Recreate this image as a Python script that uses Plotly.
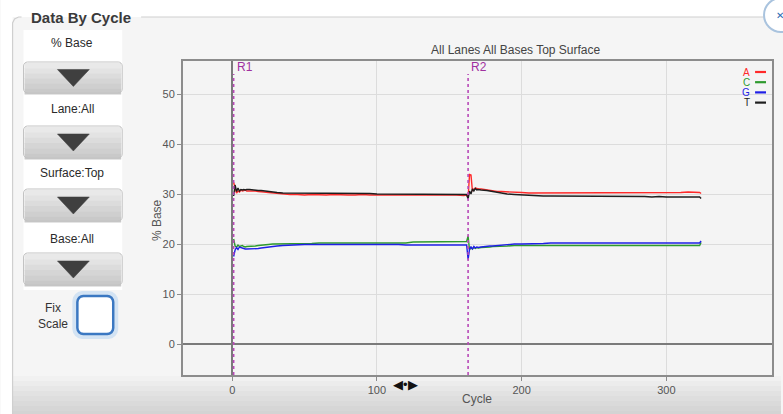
import plotly.graph_objects as go
import math

# ---------------- data ----------------
cycles = [1, 2, 3, 4, 5, 6, 7, 8, 9, 10,
          12, 14, 16, 18, 20, 22, 25, 28, 31, 35,
          40, 45, 50, 55, 60, 65, 70, 75, 80, 85,
          90, 95, 100, 105, 110, 115, 120, 125, 130, 135,
          140, 145, 150, 155, 160, 162, 163, 164, 165, 166,
          167, 168, 169, 170, 172, 174, 176, 178, 180, 183,
          186, 190, 195, 200, 205, 210, 215, 220, 225, 230,
          235, 240, 245, 250, 255, 260, 265, 270, 275, 280,
          285, 290, 295, 300, 305, 310, 315, 320, 323, 324]

base_A = [32.3, 31.0, 30.2, 30.6, 30.4, 30.8, 30.6, 30.7, 30.8, 30.6,
          30.6, 30.7, 30.6, 30.5, 30.5, 30.4, 30.3, 30.2, 30.1, 30.0,
          29.9, 29.9, 29.8, 29.9, 29.8, 29.8, 29.9, 29.8, 29.8, 29.8,
          29.9, 29.8, 29.8, 29.9, 29.8, 29.8, 29.9, 29.8, 29.8, 29.8,
          29.9, 29.8, 29.8, 29.8, 29.7, 29.8, 29.2, 33.9, 33.8, 30.6,
          31.0, 31.2, 31.1, 31.0, 31.0, 30.9, 30.8, 30.7, 30.6, 30.5,
          30.5, 30.4, 30.3, 30.3, 30.2, 30.2, 30.2, 30.2, 30.2, 30.2,
          30.2, 30.2, 30.2, 30.2, 30.2, 30.2, 30.2, 30.2, 30.2, 30.2,
          30.2, 30.2, 30.2, 30.2, 30.2, 30.3, 30.4, 30.3, 30.3, 30.1]

base_C = [21.0, 19.6, 19.4, 19.8, 19.5, 19.6, 19.7, 19.5, 19.4, 19.5,
          19.5, 19.5, 19.6, 19.7, 19.8, 19.9, 19.9, 20.0, 20.0, 20.0,
          20.0, 20.1, 20.1, 20.1, 20.2, 20.2, 20.1, 20.2, 20.2, 20.2,
          20.2, 20.2, 20.2, 20.2, 20.2, 20.2, 20.2, 20.4, 20.4, 20.4,
          20.4, 20.5, 20.5, 20.5, 20.5, 20.5, 21.6, 18.8, 19.3, 19.0,
          19.3, 19.1, 19.3, 19.2, 19.3, 19.3, 19.4, 19.4, 19.5, 19.5,
          19.6, 19.6, 19.7, 19.7, 19.8, 19.8, 19.8, 19.8, 19.8, 19.8,
          19.8, 19.8, 19.8, 19.8, 19.8, 19.8, 19.8, 19.8, 19.8, 19.8,
          19.8, 19.8, 19.8, 19.8, 19.7, 19.7, 19.7, 19.7, 19.7, 20.3]

base_G = [17.5, 18.8, 19.3, 18.9, 19.4, 19.3, 19.1, 19.0, 19.0, 19.0,
          19.0, 19.0, 19.1, 19.1, 19.2, 19.3, 19.4, 19.5, 19.6, 19.7,
          19.8, 19.8, 19.9, 19.9, 19.9, 20.0, 20.0, 20.0, 19.9, 20.0,
          19.9, 19.9, 19.9, 19.9, 19.9, 19.9, 19.8, 19.8, 19.8, 19.8,
          19.8, 19.8, 19.8, 19.8, 19.8, 19.8, 16.9, 19.0, 19.4, 19.0,
          19.5, 19.2, 19.4, 19.3, 19.4, 19.5, 19.5, 19.6, 19.6, 19.7,
          19.8, 19.9, 20.0, 20.0, 20.0, 20.1, 20.1, 20.2, 20.2, 20.2,
          20.2, 20.3, 20.2, 20.2, 20.3, 20.2, 20.2, 20.2, 20.2, 20.2,
          20.2, 20.2, 20.2, 20.2, 20.2, 20.2, 20.2, 20.2, 20.2, 20.6]

base_T = [29.6, 31.8, 30.5, 31.2, 30.6, 30.9, 30.8, 30.9, 30.8, 30.9,
          30.9, 30.8, 30.8, 30.7, 30.7, 30.6, 30.5, 30.4, 30.3, 30.2,
          30.2, 30.1, 30.2, 30.1, 30.2, 30.1, 30.1, 30.2, 30.1, 30.1,
          30.1, 30.1, 30.0, 30.0, 30.0, 30.0, 30.0, 30.0, 30.0, 29.9,
          30.0, 29.9, 29.9, 29.9, 29.9, 29.9, 29.0, 30.6, 30.0, 31.0,
          30.6, 31.1, 30.8, 30.9, 30.8, 30.8, 30.7, 30.6, 30.5, 30.3,
          30.2, 30.0, 29.9, 29.8, 29.7, 29.7, 29.6, 29.6, 29.6, 29.5,
          29.6, 29.5, 29.5, 29.5, 29.5, 29.5, 29.5, 29.5, 29.5, 29.5,
          29.5, 29.4, 29.5, 29.4, 29.4, 29.4, 29.4, 29.4, 29.4, 29.1]

series_names = ["A", "C", "G", "T"]
series_colors = ["#ff2a2a", "#2e9a2e", "#1f1fe6", "#1e1e1e"]
read_labels = ["R1", "R2"]
read_starts = [1, 163]
x_ticks = [0, 100, 200, 300]
y_ticks = [0, 10, 20, 30, 40, 50]
menu_labels = ["% Base", "Lane:All", "Surface:Top", "Base:All"]

chart_title = "All Lanes All Bases Top Surface"
panel_title = "Data By Cycle"

# ---------------- layout helpers (pixel -> paper) ----------------
W, H = 783, 414
PL, PR, PT, PB = 183, 774, 61, 375


def fx(x):
    return (x - PL) / (PR - PL)


def fy(y):
    return (PB - y) / (PB - PT)


FONT = "Liberation Sans, Arial, sans-serif"
shapes = []
annots = []


def rect(x0, y0, x1, y1, fill, line=None, lw=0, layer="below"):
    shapes.append(dict(type="rect", xref="paper", yref="paper",
                       x0=fx(x0), x1=fx(x1), y0=fy(y1), y1=fy(y0),
                       fillcolor=fill, line=dict(color=line or fill, width=lw),
                       layer=layer))


def path(points, fill=None, line="#000", lw=1, closed=False, layer="below"):
    d = "M " + " L ".join(f"{fx(a):.5f},{fy(b):.5f}" for a, b in points)
    if closed:
        d += " Z"
    shapes.append(dict(type="path", xref="paper", yref="paper", path=d,
                       fillcolor=fill if fill else "rgba(0,0,0,0)",
                       line=dict(color=line, width=lw), layer=layer))


def rrect(x0, y0, x1, y1, r, fill=None, line="#000", lw=1, layer="below"):
    pts = []
    corners = [(x1 - r, y0 + r, -90, 0), (x1 - r, y1 - r, 0, 90),
               (x0 + r, y1 - r, 90, 180), (x0 + r, y0 + r, 180, 270)]
    for cx, cy, a0, a1 in corners:
        for k in range(5):
            a = math.radians(a0 + (a1 - a0) * k / 4)
            pts.append((cx + r * math.cos(a), cy + r * math.sin(a)))
    path(pts, fill=fill, line=line, lw=lw, closed=True, layer=layer)


def text(x, y, s, size=12, color="#333", xanchor="center", bold=False, angle=0):
    annots.append(dict(xref="paper", yref="paper", x=fx(x), y=fy(y), text=(f"<b>{s}</b>" if bold else s),
                       showarrow=False, xanchor=xanchor, yanchor="middle", textangle=angle,
                       font=dict(family=FONT, size=size, color=color)))


# page background: white top strip, panel, bottom gradient
rect(0, 0, W, 17, "#ffffff")
grad = ["#f1f1f1", "#ececec", "#e7e7e7", "#e2e2e2", "#dedede", "#dadada", "#d6d6d6", "#d3d3d3"]
for i, c in enumerate(grad):
    rect(12, 376 + i * 5, W, 376 + (i + 1) * 5 + 1, c)
rect(0, 17, 12, H, "#ffffff")

# fieldset border
path([(12, H), (12, 23), (14, 19), (18, 17), (21, 17)], line="#cfcfcf", lw=1.2)
path([(141, 17), (768, 17)], line="#cfcfcf", lw=1.2)
text(81, 17, panel_title, size=15, color="#3a3a3a", bold=True)

# close button (cut off at top-right)
shapes.append(dict(type="circle", xref="paper", yref="paper",
                   x0=fx(766), x1=fx(800), y0=fy(32), y1=fy(-2),
                   fillcolor="#ffffff", line=dict(color="#a9c3de", width=2), layer="below"))
text(776, 15, "✕", size=10, color="#2d6bb3", xanchor="left")

# left control panel
rect(23, 30, 122, 290, "#ffffff")
btn_y = [(62, 93), (126, 158), (189, 221), (253, 285)]
lbl_y = [43, 109, 173, 239]
bgrad = ["#e9e9e9", "#e3e3e3", "#dcdcdc", "#d5d5d5", "#cfcfcf", "#c9c9c9"]
for (y0, y1), ly, lab in zip(btn_y, lbl_y, menu_labels):
    hgt = (y1 - y0) / len(bgrad)
    for i, c in enumerate(bgrad):
        rect(24, y0 + 1 + i * hgt, 121, y0 + 1 + (i + 1) * hgt + 0.5, c)
    rrect(23, y0, 122, y1, 4, line="#c2c2c2", lw=1)
    cy = (y0 + y1) / 2
    path([(57, cy - 8), (89, cy - 8), (73, cy + 9)], fill="#3f3f3f", line="#3f3f3f", lw=0.5, closed=True)
    text(72, ly, lab, size=12, color="#2a2a2a")

# Fix Scale checkbox
rrect(74, 293, 116, 337, 8, line="#d3e3f3", lw=4)
rrect(77, 296, 113, 334, 6, fill="#ffffff", line="#3b78c2", lw=2.5)
text(53, 308, "Fix", size=12, color="#333")
text(53, 324, "Scale", size=12, color="#333")

# chart texts
text(517, 50, chart_title, size=12, color="#444")
text(157, 220, "% Base", size=12, color="#555", angle=-90)
text(478, 399, "Cycle", size=12, color="#555")
text(406, 384, "◀•▶", size=13, color="#111")

# custom legend
for i, (nm, col) in enumerate(zip(series_names, series_colors)):
    yy = 72 + i * 10.2
    text(754, yy, nm, size=10, color=col, xanchor="right")
    path([(757, yy), (768, yy)], line=col, lw=2.2, layer="above")

# read markers
for lab, xs in zip(read_labels, read_starts):
    shapes.append(dict(type="line", xref="x", yref="paper", x0=xs, x1=xs,
                       y0=0, y1=fy(74), line=dict(color="#b84ab8", width=1.6, dash="dot"),
                       layer="above"))
    annots.append(dict(xref="x", yref="paper", x=xs, y=fy(67), text=lab, showarrow=False,
                       xanchor="left", yanchor="middle", xshift=1,
                       font=dict(family=FONT, size=12, color="#a0309f")))

fig = go.Figure()
for nm, col, ys in zip(series_names, series_colors, [base_A, base_C, base_G, base_T]):
    fig.add_trace(go.Scatter(x=cycles, y=ys, mode="lines", name=nm,
                             line=dict(color=col, width=1.4), hoverinfo="skip"))

axis_common = dict(showgrid=True, gridcolor="#dcdcdc", gridwidth=1,
                   showline=True, mirror=True, linecolor="#8c8c8c", linewidth=2,
                   ticks="outside", ticklen=4, tickcolor="#8c8c8c", tickwidth=1,
                   tickfont=dict(family=FONT, size=11, color="#555"),
                   zeroline=True, zerolinecolor="#7a7a7a", zerolinewidth=1.6)

fig.update_layout(
    width=W, height=H,
    margin=dict(l=PL, r=W - PR, t=PT, b=H - PB, pad=0),
    paper_bgcolor="#f5f5f5", plot_bgcolor="#f4f4f4",
    showlegend=False,
    xaxis=dict(range=[-34, 373], tickvals=x_ticks, **axis_common),
    yaxis=dict(range=[-6.2, 56.6], tickvals=y_ticks, **axis_common),
    shapes=shapes, annotations=annots,
)

fig.write_html("out.html", config={"displayModeBar": False},
               post_script="document.body.style.margin='0px';document.body.style.overflow='hidden';")
